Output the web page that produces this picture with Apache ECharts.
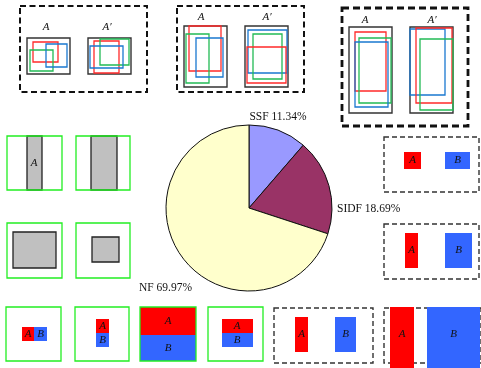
<!DOCTYPE html>
<html>
<head>
<meta charset="utf-8">
<style>
  html, body { margin: 0; padding: 0; background: #fff; }
  #chart { width: 481px; height: 368px; }
</style>
<script src="https://cdn.jsdelivr.net/npm/echarts@6/dist/echarts.min.js"></script>
</head>
<body>
<div id="chart"></div>
<script>
// Failure-type shares shown in the central pie
const categories = ['SSF', 'SIDF', 'NF'];
const shares = [11.34, 18.69, 69.97];
const sliceColors = ['#9999ff', '#993366', '#ffffcc'];

const SERIF = '"Liberation Serif", "Times New Roman", serif';

// Label anchors around the pie (x, y, align)
const labelAnchors = [
  { x: 278, y: 117, align: 'center' },
  { x: 337, y: 209, align: 'left' },
  { x: 192, y: 288, align: 'right' }
];

// ---- helpers for the surrounding schematic panels ----
function rect(x1, y1, x2, y2, style) {
  return {
    type: 'rect', silent: true,
    shape: { x: x1, y: y1, width: x2 - x1, height: y2 - y1 },
    style: Object.assign({ fill: 'none' }, style)
  };
}
function label(x, y, text, size) {
  return {
    type: 'text', silent: true,
    style: {
      x: x, y: y, text: text,
      font: 'italic ' + (size || 11) + 'px ' + SERIF,
      fill: '#111',
      align: 'center', verticalAlign: 'middle',
      textAlign: 'center', textVerticalAlign: 'middle'
    }
  };
}
const bigDash = { stroke: '#111', lineWidth: 2, lineDash: [6, 3.5] };
const bigDash3 = { stroke: '#111', lineWidth: 2.8, lineDash: [7, 4] };
const smallDash = { stroke: '#333', lineWidth: 1.4, lineDash: [5, 3] };
const frame = { stroke: '#333', lineWidth: 1.4 };
const R = { stroke: '#ff2a2a', lineWidth: 1.3 };
const G = { stroke: '#22bb55', lineWidth: 1.3 };
const Bl = { stroke: '#1a78d0', lineWidth: 1.3 };
const lime = { stroke: '#22ee22', lineWidth: 1.3 };
const grayBlock = { fill: '#c0c0c0', stroke: '#222', lineWidth: 1.3 };
const redFill = { fill: '#ff0000' };
const blueFill = { fill: '#3366ff' };

const panels = [
  // top row: bounding-box pairs A / A'
  rect(20, 6, 147, 92, bigDash),
  label(46, 27, 'A'), label(107, 27, 'A\u2032'),
  rect(27, 38, 70, 74, frame),
  rect(33, 42, 58, 62, R), rect(30, 50, 53, 71, G), rect(46, 44, 67, 67, Bl),
  rect(88, 38, 131, 74, frame),
  rect(94, 41, 119, 73, R), rect(100, 39, 129, 65, G), rect(90, 46, 123, 68, Bl),

  rect(177, 6, 304, 92, bigDash),
  label(201, 17, 'A'), label(267, 17, 'A\u2032'),
  rect(184, 26, 227, 87, frame),
  rect(189, 26, 221, 71, R), rect(186, 34, 209, 83, G), rect(196, 38, 223, 77, Bl),
  rect(245, 26, 288, 87, frame),
  rect(248, 30, 287, 73, Bl), rect(253, 34, 282, 79, G), rect(247, 47, 286, 83, R),

  rect(342, 8, 468, 126, bigDash3),
  label(365, 20, 'A'), label(432, 20, 'A\u2032'),
  rect(349, 27, 392, 113, frame),
  rect(355, 32, 386, 91, R), rect(359, 38, 391, 103, G), rect(355, 42, 388, 107, Bl),
  rect(410, 27, 453, 113, frame),
  rect(410, 29, 445, 95, Bl), rect(416, 28, 452, 103, R), rect(420, 39, 453, 110, G),

  // left column: gray blocks in green frames
  rect(27, 136, 42, 190, grayBlock), label(34, 163, 'A'),
  rect(7, 136, 62, 190, lime),
  rect(91, 136, 117, 190, grayBlock),
  rect(76, 136, 130, 190, lime),
  rect(7, 223, 62, 278, lime),
  rect(13, 232, 56, 268, grayBlock),
  rect(76, 223, 130, 278, lime),
  rect(92, 237, 119, 262, grayBlock),

  // right column: A / B pairs in dashed frames
  rect(384, 137, 479, 192, smallDash),
  rect(404, 152, 421, 169, redFill), label(412.5, 160.5, 'A'),
  rect(445, 152, 470, 169, blueFill), label(457.5, 160.5, 'B'),
  rect(384, 224, 479, 279, smallDash),
  rect(405, 233, 418, 268, redFill), label(411.5, 250.5, 'A'),
  rect(445, 233, 472, 268, blueFill), label(458.5, 250.5, 'B'),

  // bottom row
  rect(22, 327, 34, 341, redFill), label(28, 334, 'A'),
  rect(34, 327, 47, 341, blueFill), label(40.5, 334, 'B'),
  rect(6, 307, 61, 361, lime),
  rect(96, 319, 109, 333, redFill), label(102.5, 326, 'A'),
  rect(96, 333, 109, 347, blueFill), label(102.5, 340, 'B'),
  rect(75, 307, 129, 361, lime),
  rect(140, 307, 196, 335, redFill), label(168, 321, 'A'),
  rect(140, 335, 196, 361, blueFill), label(168, 348, 'B'),
  rect(140, 307, 196, 361, lime),
  rect(222, 319, 253, 333, redFill), label(237, 326, 'A'),
  rect(222, 333, 253, 347, blueFill), label(237, 340, 'B'),
  rect(208, 307, 263, 361, lime),
  rect(274, 308, 373, 363, smallDash),
  rect(295, 317, 308, 352, redFill), label(301.5, 334.5, 'A'),
  rect(335, 317, 356, 352, blueFill), label(345.5, 334.5, 'B'),
  rect(384, 308, 481, 363, smallDash),
  rect(390, 307, 414, 368, redFill), label(402, 334, 'A'),
  rect(427, 307, 480, 368, blueFill), label(453.5, 334, 'B')
];

const chart = echarts.init(document.getElementById('chart'), null, { renderer: 'canvas' });
chart.setOption({
  animation: false,
  backgroundColor: '#ffffff',
  graphic: { elements: panels },
  series: [{
    type: 'pie',
    center: [249, 208],
    radius: 83,
    startAngle: 90,
    clockwise: true,
    silent: true,
    data: categories.map((c, i) => ({
      name: c,
      value: shares[i],
      itemStyle: { color: sliceColors[i] }
    })),
    itemStyle: { borderColor: '#111', borderWidth: 1 },
    label: {
      show: true,
      position: 'outside',
      formatter: p => p.name + ' ' + shares[p.dataIndex].toFixed(2) + '%',
      fontFamily: SERIF,
      fontSize: 11.5,
      color: '#111'
    },
    labelLine: { show: false },
    labelLayout: p => ({
      x: labelAnchors[p.dataIndex].x,
      y: labelAnchors[p.dataIndex].y,
      align: labelAnchors[p.dataIndex].align,
      verticalAlign: 'middle'
    })
  }]
});
</script>
</body>
</html>
